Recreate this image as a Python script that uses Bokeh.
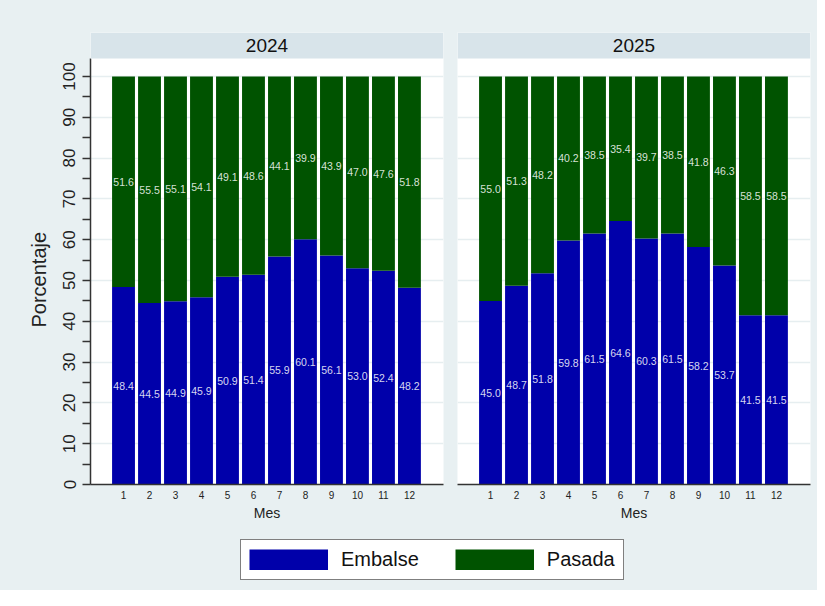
from bokeh.plotting import figure
from bokeh.models import (ColumnDataSource, FixedTicker, BoxAnnotation, Label,
                          Legend, LegendItem, Range1d, Title)
from bokeh.layouts import row, column
from bokeh.embed import file_html
from bokeh.resources import INLINE
from bokeh.core.properties import value

# ---------------- data ----------------
meses = list(range(1, 13))
mes_labels = [str(m) for m in meses]
years = ["2024", "2025"]
embalse_2024 = [48.4, 44.5, 44.9, 45.9, 50.9, 51.4, 55.9, 60.1, 56.1, 53.0, 52.4, 48.2]
pasada_2024 = [51.6, 55.5, 55.1, 54.1, 49.1, 48.6, 44.1, 39.9, 43.9, 47.0, 47.6, 51.8]
embalse_2025 = [45.0, 48.7, 51.8, 59.8, 61.5, 64.6, 60.3, 61.5, 58.2, 53.7, 41.5, 41.5]
pasada_2025 = [55.0, 51.3, 48.2, 40.2, 38.5, 35.4, 39.7, 38.5, 41.8, 46.3, 58.5, 58.5]
series_names = ["Embalse", "Pasada"]
y_title = "Porcentaje"
x_title = "Mes"
y_ticks = list(range(0, 101, 10))
y_minor = list(range(5, 100, 10))

# ---------------- style ----------------
BG = "#e8f0f2"
HEADER = "#d8e4ea"
GRID = "#e6eef0"
BLUE = "#0000aa"
GREEN = "#005300"
AXIS = "#333333"
FONT = "Liberation Sans"

Y_TOP_WHITE = 104.4
Y_END = 110.78
X_START = -0.27
X_END = 13.31


def panel(year, emb, pas, show_y):
    src = ColumnDataSource(dict(
        x=meses,
        emb=emb,
        tot=[e + p for e, p in zip(emb, pas)],
        emb_mid=[e / 2 for e in emb],
        pas_mid=[e + p / 2 for e, p in zip(emb, pas)],
        emb_lbl=["%.1f" % e for e in emb],
        pas_lbl=["%.1f" % p for p in pas],
    ))
    p = figure(width=450 if show_y else 367, height=530,
               output_backend="svg", toolbar_location=None,
               x_range=Range1d(X_START, X_END), y_range=Range1d(0, Y_END),
               y_axis_location="left" if show_y else None,
               min_border_left=90 if show_y else 7, min_border_right=7,
               min_border_top=32, min_border_bottom=46)
    p.background_fill_color = "white"
    p.border_fill_color = BG
    p.outline_line_color = None

    p.xgrid.visible = False
    p.ygrid.ticker = FixedTicker(ticks=y_ticks[1:])
    p.ygrid.grid_line_color = GRID
    p.ygrid.grid_line_width = 1.5

    p.vbar(x="x", bottom=0, top="emb", width=0.88, source=src,
           fill_color=BLUE, line_color=None)
    p.vbar(x="x", bottom="emb", top="tot", width=0.88, source=src,
           fill_color=GREEN, line_color=None)

    for ycol, tcol in (("emb_mid", "emb_lbl"), ("pas_mid", "pas_lbl")):
        p.text(x="x", y=ycol, text=tcol, source=src, text_align="center",
               text_baseline="middle", text_font=value(FONT),
               text_font_size="10.5px", text_color="white", text_alpha=0.85)

    p.add_layout(BoxAnnotation(bottom=Y_TOP_WHITE, fill_color=HEADER,
                               fill_alpha=1.0, line_color=None))
    p.add_layout(Label(x=(X_START + X_END) / 2, y=(Y_TOP_WHITE + Y_END) / 2,
                       text=year, text_align="center", text_baseline="middle",
                       text_font=FONT, text_font_size="19px",
                       text_color="#111111"))

    xa = p.xaxis[0]
    xa.ticker = FixedTicker(ticks=meses)
    xa.major_label_overrides = {m: l for m, l in zip(meses, mes_labels)}
    xa.axis_label = x_title
    xa.axis_label_text_font = FONT
    xa.axis_label_text_font_size = "14px"
    xa.axis_label_text_font_style = "normal"
    xa.axis_label_text_color = "#222222"
    xa.axis_label_standoff = 3
    xa.major_label_text_font = FONT
    xa.major_label_text_font_size = "10px"
    xa.major_label_text_color = "#222222"
    xa.major_label_standoff = 6
    xa.major_tick_out = 0
    xa.major_tick_in = 0
    xa.minor_tick_out = 0
    xa.minor_tick_in = 0
    xa.axis_line_color = AXIS
    xa.axis_line_width = 1.5

    if show_y:
        ya = p.yaxis[0]
        ya.ticker = FixedTicker(ticks=y_ticks, minor_ticks=y_minor)
        ya.bounds = (0, Y_TOP_WHITE)
        ya.major_label_orientation = "vertical"
        ya.major_label_text_font = FONT
        ya.major_label_text_font_size = "17px"
        ya.major_label_text_color = "#222222"
        ya.major_label_standoff = 7
        ya.major_tick_out = 8
        ya.major_tick_in = 0
        ya.minor_tick_out = 8
        ya.minor_tick_in = 0
        ya.axis_line_color = AXIS
        ya.axis_line_width = 1.5
        ya.major_tick_line_color = AXIS
        ya.minor_tick_line_color = AXIS
        ya.major_tick_line_width = 1.5
        ya.minor_tick_line_width = 1.5
        # y title as a left-side title, shifted to sit on the white plot area
        p.add_layout(Title(text=y_title, align="left", offset=157,
                           text_font=FONT, text_font_size="20px",
                           text_font_style="normal", text_color="#222222",
                           standoff=21), "left")
    return p


p1 = panel(years[0], embalse_2024, pasada_2024, True)
p2 = panel(years[1], embalse_2025, pasada_2025, False)

# legend strip (proxy renderers sit outside the visible range)
p3 = figure(width=817, height=60, output_backend="svg", toolbar_location=None,
            x_axis_location=None, y_axis_location=None, min_border=0,
            x_range=Range1d(-100, -99), y_range=Range1d(0, 1))
p3.background_fill_color = BG
p3.border_fill_color = BG
p3.outline_line_color = None
p3.grid.visible = False
r_emb = p3.line(x=meses, y=embalse_2024, line_width=21, line_color=BLUE)
r_pas = p3.line(x=meses, y=pasada_2024, line_width=21, line_color=GREEN)
legend = Legend(items=[LegendItem(label=series_names[0], renderers=[r_emb]),
                       LegendItem(label=series_names[1], renderers=[r_pas])],
                orientation="horizontal", location=(240, 10), margin=0,
                padding=8, spacing=36, label_standoff=13,
                glyph_width=79, glyph_height=21, label_height=21,
                label_text_font=FONT, label_text_font_size="20px",
                label_text_color="#111111",
                border_line_color="black", border_line_width=1,
                background_fill_color="white", background_fill_alpha=1.0)
p3.add_layout(legend, "center")

top_row = row(p1, p2, styles={"background-color": BG})
layout = column(top_row, p3, styles={"background-color": BG})
open("out.html", "w").write(file_html(layout, INLINE))
